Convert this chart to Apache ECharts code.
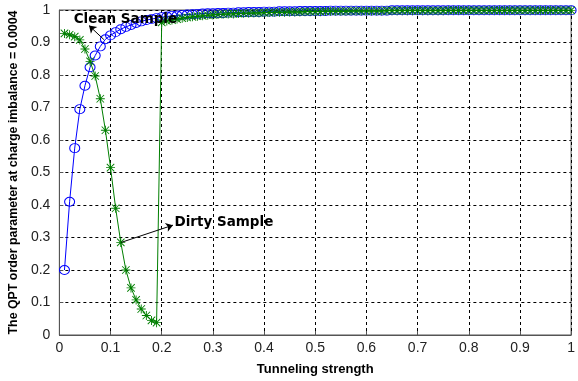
<!DOCTYPE html>
<html>
<head>
<meta charset="utf-8">
<script src="https://cdn.jsdelivr.net/npm/echarts@6/dist/echarts.min.js"></script>
<style>
  html, body { margin: 0; padding: 0; background: #fff; }
  #chart { width: 578px; height: 381px; }
</style>
</head>
<body>
<div id="chart"></div>
<script>
// tunneling strength samples
const xs = [
  0.01, 0.02, 0.03, 0.04, 0.05, 0.06, 0.07, 0.08, 0.09, 0.10,
  0.11, 0.12, 0.13, 0.14, 0.15, 0.16, 0.17, 0.18, 0.19, 0.20,
  0.21, 0.22, 0.23, 0.24, 0.25, 0.26, 0.27, 0.28, 0.29, 0.30,
  0.31, 0.32, 0.33, 0.34, 0.35, 0.36, 0.37, 0.38, 0.39, 0.40,
  0.41, 0.42, 0.43, 0.44, 0.45, 0.46, 0.47, 0.48, 0.49, 0.50,
  0.51, 0.52, 0.53, 0.54, 0.55, 0.56, 0.57, 0.58, 0.59, 0.60,
  0.61, 0.62, 0.63, 0.64, 0.65, 0.66, 0.67, 0.68, 0.69, 0.70,
  0.71, 0.72, 0.73, 0.74, 0.75, 0.76, 0.77, 0.78, 0.79, 0.80,
  0.81, 0.82, 0.83, 0.84, 0.85, 0.86, 0.87, 0.88, 0.89, 0.90,
  0.91, 0.92, 0.93, 0.94, 0.95, 0.96, 0.97, 0.98, 0.99, 1.00
];

const clean = [
  0.200, 0.410, 0.575, 0.695, 0.767, 0.824, 0.860, 0.888, 0.910, 0.922,
  0.932, 0.941, 0.948, 0.954, 0.960, 0.965, 0.969, 0.972, 0.975, 0.978,
  0.980, 0.982, 0.983, 0.985, 0.986, 0.987, 0.988, 0.989, 0.990, 0.990,
  0.991, 0.991, 0.992, 0.992, 0.993, 0.993, 0.994, 0.994, 0.994, 0.995,
  0.995, 0.995, 0.996, 0.996, 0.996, 0.996, 0.997, 0.997, 0.997, 0.997,
  0.997, 0.997, 0.998, 0.998, 0.998, 0.998, 0.998, 0.998, 0.998, 0.998,
  0.998, 0.998, 0.998, 0.998, 0.999, 0.999, 0.999, 0.999, 0.999, 0.999,
  0.999, 0.999, 0.999, 0.999, 0.999, 0.999, 0.999, 0.999, 0.999, 0.999,
  0.999, 0.999, 0.999, 0.999, 0.999, 0.999, 0.999, 0.999, 0.999, 0.999,
  0.999, 0.999, 0.999, 0.999, 0.999, 0.999, 0.999, 0.999, 0.999, 0.999
];

const dirty = [
  0.928, 0.924, 0.918, 0.908, 0.880, 0.842, 0.797, 0.727, 0.630, 0.515,
  0.390, 0.285, 0.200, 0.145, 0.108, 0.080, 0.060, 0.045, 0.038, 0.962,
  0.966, 0.969, 0.972, 0.975, 0.977, 0.979, 0.981, 0.982, 0.984, 0.985,
  0.986, 0.987, 0.988, 0.988, 0.989, 0.990, 0.990, 0.991, 0.991, 0.992,
  0.992, 0.993, 0.993, 0.993, 0.994, 0.994, 0.994, 0.995, 0.995, 0.995,
  0.995, 0.996, 0.996, 0.996, 0.996, 0.996, 0.997, 0.997, 0.997, 0.997,
  0.997, 0.997, 0.997, 0.998, 0.998, 0.998, 0.998, 0.998, 0.998, 0.998,
  0.998, 0.998, 0.998, 0.998, 0.998, 0.999, 0.999, 0.999, 0.999, 0.999,
  0.999, 0.999, 0.999, 0.999, 0.999, 0.999, 0.999, 0.999, 0.999, 0.999,
  0.999, 0.999, 0.999, 0.999, 0.999, 0.999, 0.999, 0.999, 0.999, 0.999
];

const tickLabels = ['0', '0.1', '0.2', '0.3', '0.4', '0.5', '0.6', '0.7', '0.8', '0.9', '1'];

// annotations: text anchor, arrow from, arrow to (data units)
const cleanNote = ['Clean Sample', [0.028, 0.97], [0.087, 0.909], [0.058, 0.952]];
const dirtyNote = ['Dirty Sample', [0.225, 0.345], [0.121, 0.285], [0.222, 0.338]];

const blue = '#0000ff';
const green = '#007f00';
const star = 'path://M4.5,0h1v10h-1z M0,4.5h10v1h-10z M1.2,0.5L9.5,8.8 8.8,9.5 0.5,1.2z M8.8,0.5L9.5,1.2 1.2,9.5 0.5,8.8z';

const pairs = (ys) => xs.map((x, i) => [x, ys[i]]);

const notePoint = (n) => ({
  coord: n[1],
  label: { formatter: n[0] }
});
const noteArrow = (n) => [{ coord: n[2] }, { coord: n[3] }];

const chart = echarts.init(document.getElementById('chart'));

const axisCommon = {
  type: 'value',
  min: 0,
  max: 1,
  interval: 0.1,
  axisLine: { show: true, lineStyle: { color: '#555', width: 1 } },
  axisTick: { show: true, inside: true, length: 4, lineStyle: { color: '#555' } },
  axisLabel: {
    color: '#222',
    fontFamily: 'Liberation Sans',
    fontSize: 14,
    formatter: (v) => tickLabels[Math.round(v * 10)]
  },
  splitLine: { show: true, lineStyle: { color: '#000', type: [3, 3], width: 1 } },
  nameTextStyle: { color: '#000', fontFamily: 'Liberation Sans', fontWeight: 'bold' }
};

chart.setOption({
  animation: false,
  backgroundColor: '#fff',
  grid: {
    left: 57, right: 2, top: 10, bottom: 41,
    show: true, borderColor: '#555', borderWidth: 1
  },
  xAxis: Object.assign({}, axisCommon, {
    name: 'Tunneling strength',
    nameLocation: 'middle',
    nameGap: 28,
    nameTextStyle: Object.assign({}, axisCommon.nameTextStyle, { fontSize: 13 }),
    axisLabel: Object.assign({}, axisCommon.axisLabel, { margin: 6 })
  }),
  yAxis: Object.assign({}, axisCommon, {
    name: 'The QPT order parameter at charge imbalance = 0.0004',
    nameLocation: 'middle',
    nameGap: 35,
    nameTextStyle: Object.assign({}, axisCommon.nameTextStyle, { fontSize: 12.4 }),
    axisLabel: Object.assign({}, axisCommon.axisLabel, { margin: 9 })
  }),
  series: [
    {
      name: 'Clean Sample',
      type: 'line',
      data: pairs(clean),
      symbol: 'circle',
      symbolSize: [10, 9],
      showAllSymbol: true,
      lineStyle: { color: blue, width: 1 },
      itemStyle: { color: 'rgba(255,255,255,0)', borderColor: blue, borderWidth: 1 },
      z: 2
    },
    {
      name: 'Dirty Sample',
      type: 'line',
      data: pairs(dirty),
      symbol: star,
      symbolSize: 9,
      showAllSymbol: true,
      lineStyle: { color: green, width: 1 },
      itemStyle: { color: green },
      z: 3,
      markLine: {
        silent: true,
        symbol: ['none', 'arrow'],
        symbolSize: 7,
        lineStyle: { color: '#000', type: 'solid', width: 1 },
        label: { show: false },
        data: [noteArrow(cleanNote), noteArrow(dirtyNote)]
      },
      markPoint: {
        silent: true,
        symbol: 'circle',
        symbolSize: 0,
        label: {
          show: true,
          position: 'right',
          distance: 0,
          color: '#000',
          fontFamily: 'DejaVu Sans',
          fontWeight: 'bold',
          fontSize: 13.5
        },
        data: [notePoint(cleanNote), notePoint(dirtyNote)]
      }
    }
  ]
});
</script>
</body>
</html>
